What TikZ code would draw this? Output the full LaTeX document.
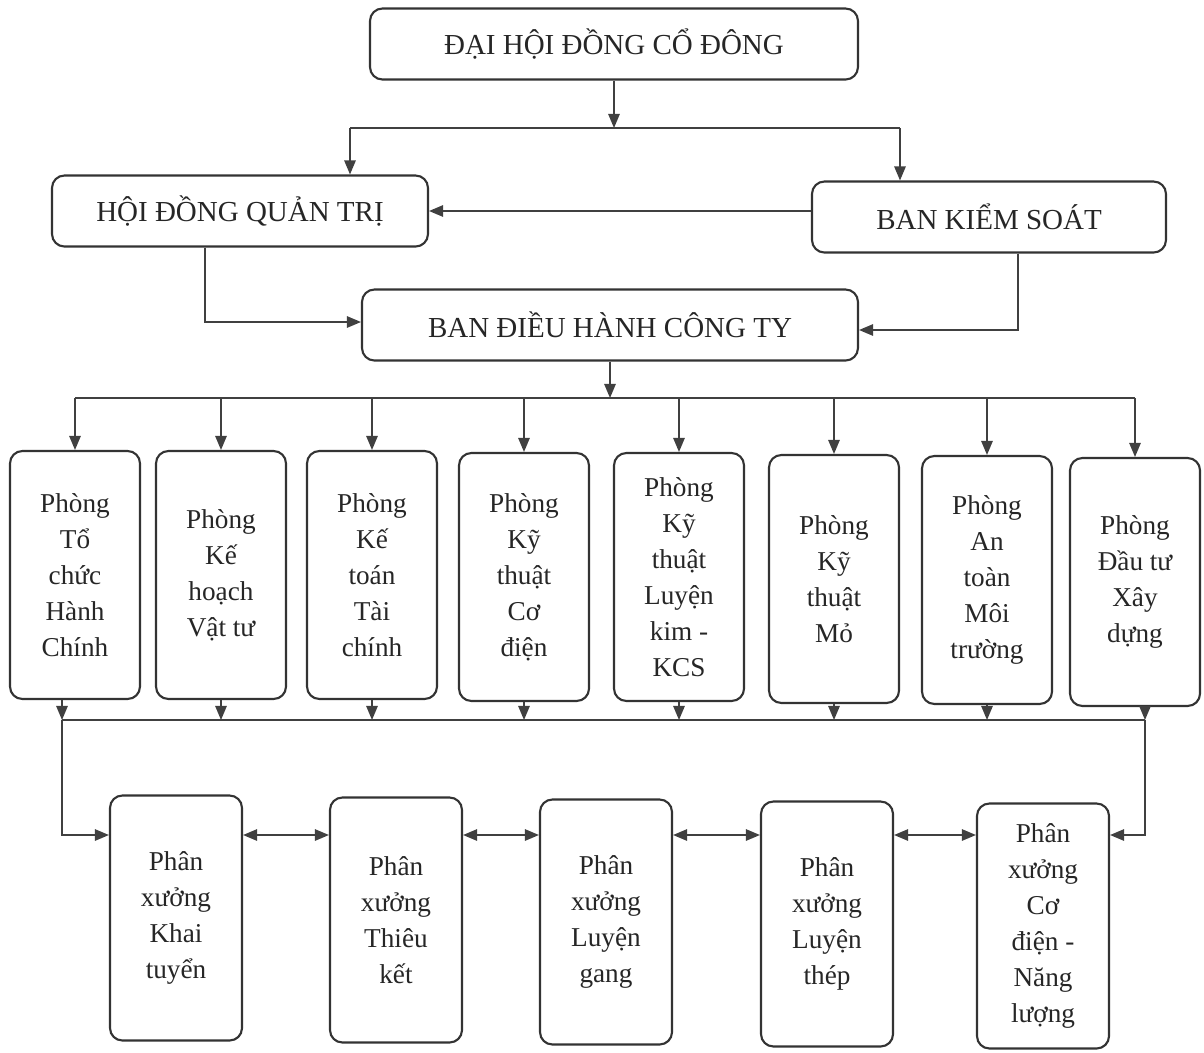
\documentclass[tikz,border=0pt]{standalone}
\usepackage{fontspec}
\setmainfont{Liberation Serif}
\usetikzlibrary{arrows.meta}

\tikzset{
  khung/.style={draw=black!80, line width=1.2pt, rounded corners=7pt, align=center, inner sep=2pt, text=black!85},
  tren/.style={khung, minimum height=1.42cm, font=\fontsize{16.5pt}{20pt}\selectfont},
  phong/.style={khung, minimum width=2.6cm, minimum height=4.96cm, font=\fontsize{15.5pt}{20.5pt}\selectfont},
  xuong/.style={khung, minimum width=2.64cm, minimum height=4.9cm, font=\fontsize{15.5pt}{20.5pt}\selectfont},
  duong/.style={draw=black!75, line width=0.9pt},
  muiten/.style={duong, -{Triangle[length=8pt,width=6.5pt]}},
  haichieu/.style={duong, {Triangle[length=8pt,width=6.5pt]}-{Triangle[length=8pt,width=6.5pt]}}
}

\begin{document}
\begin{tikzpicture}[x=0.02cm, y=-0.02cm]
                \useasboundingbox (0,0) rectangle (1204,1052);

                \node[tren, minimum width=9.76cm] (dhd) at (614,44) {ĐẠI HỘI ĐỒNG CỔ ĐÔNG};
                \node[tren, minimum width=7.52cm] (hdqt) at (240,211) {HỘI ĐỒNG QUẢN TRỊ};
                \node[tren, minimum width=7.08cm] (bks) at (989,217) {BAN KIỂM SOÁT};
                \node[tren, minimum width=9.92cm] (bdh) at (610,325) {BAN ĐIỀU HÀNH CÔNG TY};

                \node[phong] (p1) at (75,575) {Phòng\\Tổ\\chức\\Hành\\Chính};
                \node[phong] (p2) at (221,575) {Phòng\\Kế\\hoạch\\Vật tư};
                \node[phong] (p3) at (372,575) {Phòng\\Kế\\toán\\Tài\\chính};
                \node[phong] (p4) at (524,577) {Phòng\\Kỹ\\thuật\\Cơ\\điện};
                \node[phong] (p5) at (679,577) {Phòng\\Kỹ\\thuật\\Luyện\\kim -\\KCS};
                \node[phong] (p6) at (834,579) {Phòng\\Kỹ\\thuật\\Mỏ};
                \node[phong] (p7) at (987,580) {Phòng\\An\\toàn\\Môi\\trường};
                \node[phong] (p8) at (1135,582) {Phòng\\Đầu tư\\Xây\\dựng};

                \node[xuong] (px1) at (176,918) {Phân\\xưởng\\Khai\\tuyển};
                \node[xuong] (px2) at (396,920) {Phân\\xưởng\\Thiêu\\kết};
                \node[xuong] (px3) at (606,922) {Phân\\xưởng\\Luyện\\gang};
                \node[xuong] (px4) at (827,924) {Phân\\xưởng\\Luyện\\thép};
                \node[xuong] (px5) at (1043,926) {Phân\\xưởng\\Cơ\\điện -\\Năng\\lượng};

                \coordinate (n1) at (614,128);
                \coordinate (n2) at (350,128);
                \coordinate (n3) at (900,128);
                \coordinate (q1) at (205,322);
                \coordinate (q2) at (1018,330);
                \coordinate (c1) at (610,398);
                \coordinate (c2) at (75,398);
                \coordinate (c3) at (1135,398);
                \coordinate (d1) at (62,720);
                \coordinate (d2) at (1145,720);
                \coordinate (lv) at (0,835);

                \draw[muiten] (dhd) -- (n1);
                \draw[duong] (n2) -- (n3);
                \draw[muiten] (n2) -- (hdqt.north -| n2);
                \draw[muiten] (n3) -- (bks.north -| n3);
                \draw[muiten] (bks.west |- hdqt.east) -- (hdqt.east);
                \draw[muiten] (hdqt.south -| q1) |- (bdh.west |- q1);
                \draw[muiten] (bks.south -| q2) |- (bdh.east |- q2);

                \draw[muiten] (bdh) -- (c1);
                \draw[duong] (c2) -- (c3);
                \draw[muiten] (p1.north |- c2) -- (p1.north);
                \draw[muiten] (p2.north |- c2) -- (p2.north);
                \draw[muiten] (p3.north |- c2) -- (p3.north);
                \draw[muiten] (p4.north |- c2) -- (p4.north);
                \draw[muiten] (p5.north |- c2) -- (p5.north);
                \draw[muiten] (p6.north |- c2) -- (p6.north);
                \draw[muiten] (p7.north |- c2) -- (p7.north);
                \draw[muiten] (p8.north |- c2) -- (p8.north);

                \draw[muiten] (p1.south -| d1) -- (d1);
                \draw[muiten] (p2.south) -- (p2.south |- d1);
                \draw[muiten] (p3.south) -- (p3.south |- d1);
                \draw[muiten] (p4.south) -- (p4.south |- d1);
                \draw[muiten] (p5.south) -- (p5.south |- d1);
                \draw[muiten] (p6.south) -- (p6.south |- d1);
                \draw[muiten] (p7.south) -- (p7.south |- d1);
                \draw[muiten] (p8.south -| d2) -- (d2);
                \draw[duong] (d1) -- (d2);

                \draw[muiten] (d1) |- (px1.west |- lv);
                \draw[muiten] (d2) |- (px5.east |- lv);
                \draw[haichieu] (px1.east |- lv) -- (px2.west |- lv);
                \draw[haichieu] (px2.east |- lv) -- (px3.west |- lv);
                \draw[haichieu] (px3.east |- lv) -- (px4.west |- lv);
                \draw[haichieu] (px4.east |- lv) -- (px5.west |- lv);
\end{tikzpicture}
\end{document}
